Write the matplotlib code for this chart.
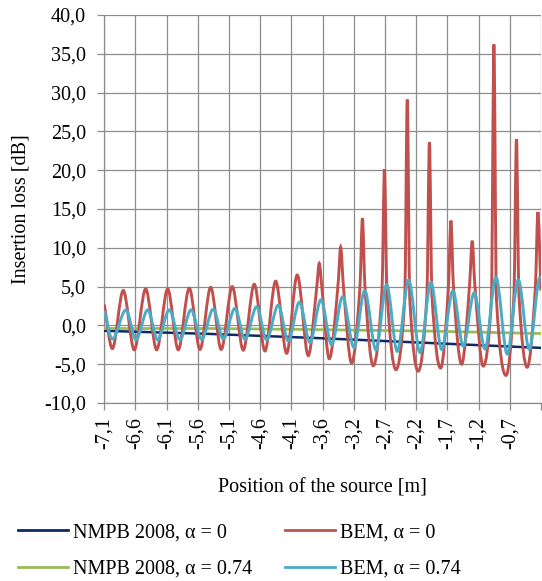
import matplotlib
matplotlib.use("Agg")
import matplotlib.pyplot as plt
import numpy as np
from matplotlib.path import Path
from matplotlib.patches import PathPatch
from matplotlib.lines import Line2D

plt.rcParams['font.family'] = ['Liberation Serif', 'DejaVu Serif']

# source position [m] and insertion loss [dB]
bem0_x = [-7.100, -6.974, -6.802, -6.629, -6.450, -6.277, -6.104, -5.938, -5.765, -5.597,
          -5.429, -5.263, -5.090, -4.917, -4.744, -4.576, -4.408, -4.235, -4.069, -3.896,
          -3.762, -3.723, -3.684, -3.566, -3.426, -3.387, -3.348, -3.215, -3.084, -3.045,
          -3.006, -2.875, -2.738, -2.699, -2.660, -2.519, -2.380, -2.341, -2.302, -2.169,
          -2.032, -1.993, -1.954, -1.817, -1.694, -1.655, -1.616, -1.487, -1.360, -1.321,
          -1.282, -1.148, -1.019, -0.980, -0.941, -0.791, -0.665, -0.626, -0.587, -0.457,
          -0.328, -0.289, -0.242]
bem0_y = [2.7, -3.0, 4.5, -3.15, 4.7, -3.15, 4.7, -3.15, 4.8, -3.1,
          4.9, -3.1, 5.0, -3.2, 5.3, -3.3, 5.7, -3.6, 6.5, -3.9,
          5.0, 8.0, 5.0, -4.3, 5.5, 10.1, 5.5, -4.85, 5.0, 13.8,
          5.0, -5.2, 4.5, 20.1, 4.5, -5.7, 3.5, 29.1, 3.5, -5.9,
          4.0, 23.6, 4.0, -5.5, 5.0, 13.5, 5.0, -5.0, 5.5, 10.9,
          5.5, -5.25, 3.5, 36.2, 3.5, -6.45, 4.0, 24.0, 4.0, -5.4,
          5.0, 14.6, 4.5]

bem074_x = [-7.100, -6.974, -6.759, -6.602, -6.418, -6.261, -6.079, -5.911, -5.738, -5.570,
            -5.388, -5.231, -5.047, -4.890, -4.707, -4.550, -4.367, -4.210, -4.034, -3.870,
            -3.697, -3.529, -3.356, -3.179, -3.010, -2.833, -2.665, -2.498, -2.319, -2.142,
            -1.969, -1.801, -1.624, -1.462, -1.289, -1.121, -0.948, -0.771, -0.598, -0.425,
            -0.257, -0.242]
bem074_y = [1.9, -1.75, 2.0, -1.85, 2.0, -1.85, 2.0, -1.85, 2.0, -1.8,
            2.1, -1.75, 2.2, -1.8, 2.4, -1.85, 2.6, -2.0, 3.0, -2.2,
            3.3, -2.5, 3.7, -2.85, 4.5, -3.15, 5.25, -3.35, 5.85, -3.5,
            5.55, -3.1, 4.45, -2.7, 4.2, -3.05, 6.2, -3.7, 5.9, -3.1,
            6.15, 6.1]

nmpb_x = [-7.100, -5.440, -3.713, -1.907, -0.242]
nmpb0_y = [-0.7, -1.1, -1.65, -2.3, -2.9]
nmpb074_y = [-0.4, -0.4, -0.55, -0.75, -1.05]

tick_labels = ['-7,1', '-6,6', '-6,1', '-5,6', '-5,1', '-4,6', '-4,1',
               '-3,6', '-3,2', '-2,7', '-2,2', '-1,7', '-1,2', '-0,7', '']
tick_pos = [-7.1 + 0.49 * i for i in range(len(tick_labels))]

c_navy = '#0b2a66'
c_red = '#c0504d'
c_green = '#9bbb59'
c_blue = '#4bacc6'
c_grid = '#8c8c8c'
fs = 14.5


def smooth_path(x, y):
    # monotone cubic (pchip-like) bezier through the points, like Excel's smoothed line
    x = np.asarray(x, float)
    y = np.asarray(y, float)
    h = np.diff(x)
    d = np.diff(y) / h
    m = np.zeros_like(y)
    m[0], m[-1] = d[0], d[-1]
    for i in range(1, len(x) - 1):
        if d[i - 1] * d[i] > 0:
            w1 = 2 * h[i] + h[i - 1]
            w2 = h[i] + 2 * h[i - 1]
            m[i] = (w1 + w2) / (w1 / d[i - 1] + w2 / d[i])
    verts = [(x[0], y[0])]
    codes = [Path.MOVETO]
    for i in range(len(h)):
        verts += [(x[i] + h[i] / 3, y[i] + m[i] * h[i] / 3),
                  (x[i + 1] - h[i] / 3, y[i + 1] - m[i + 1] * h[i] / 3),
                  (x[i + 1], y[i + 1])]
        codes += [Path.CURVE4] * 3
    return Path(verts, codes)


fig = plt.figure(figsize=(5.42, 5.81), dpi=100)
ax = fig.add_axes([0.1924, 0.3064, 0.8058, 0.6678])

ax.plot(nmpb_x, nmpb0_y, color=c_navy, lw=1.8, zorder=3)
ax.plot(nmpb_x, nmpb074_y, color=c_green, lw=2.0, zorder=3)
ax.add_patch(PathPatch(smooth_path(bem0_x, bem0_y), fill=False,
                       edgecolor=c_red, lw=2.1, zorder=4))
ax.add_patch(PathPatch(smooth_path(bem074_x, bem074_y), fill=False,
                       edgecolor=c_blue, lw=2.1, zorder=5))

ax.set_xlim(-7.1, tick_pos[-1])
ax.set_ylim(-10, 40)
ax.set_yticks(np.arange(-10, 41, 5))
ax.set_yticklabels([f'{v:.1f}'.replace('.', ',') for v in np.arange(-10, 41, 5)])
ax.set_xticks(tick_pos)
ax.set_xticklabels(tick_labels, rotation=90)

ax.grid(True, color=c_grid, lw=0.9)
ax.set_axisbelow(True)
for s in ['top', 'right']:
    ax.spines[s].set_visible(False)
for s in ['left', 'bottom']:
    ax.spines[s].set_color(c_grid)
    ax.spines[s].set_linewidth(0.9)
ax.tick_params(axis='y', length=5, color=c_grid, width=0.9, pad=8, labelsize=fs)
ax.tick_params(axis='x', length=5, color=c_grid, width=0.9, pad=5, labelsize=fs)

ax.set_ylabel('Insertion loss [dB]', fontsize=fs, labelpad=10)
ax.set_xlabel('Position of the source [m]', fontsize=fs, labelpad=21)

handles = [Line2D([], [], color=c_navy, lw=2),
           Line2D([], [], color=c_green, lw=2),
           Line2D([], [], color=c_red, lw=2),
           Line2D([], [], color=c_blue, lw=2)]
labels = ['NMPB 2008, α = 0', 'NMPB 2008, α = 0.74', 'BEM, α = 0', 'BEM, α = 0.74']
fig.legend(handles, labels, ncol=2, loc='upper left',
           bbox_to_anchor=(18 / 542, 1 - 523 / 581), frameon=False,
           fontsize=fs, handlelength=2.5, handletextpad=0.25,
           columnspacing=1.6, labelspacing=0.87, borderpad=0, borderaxespad=0)

fig.savefig('out.png', dpi=100)
